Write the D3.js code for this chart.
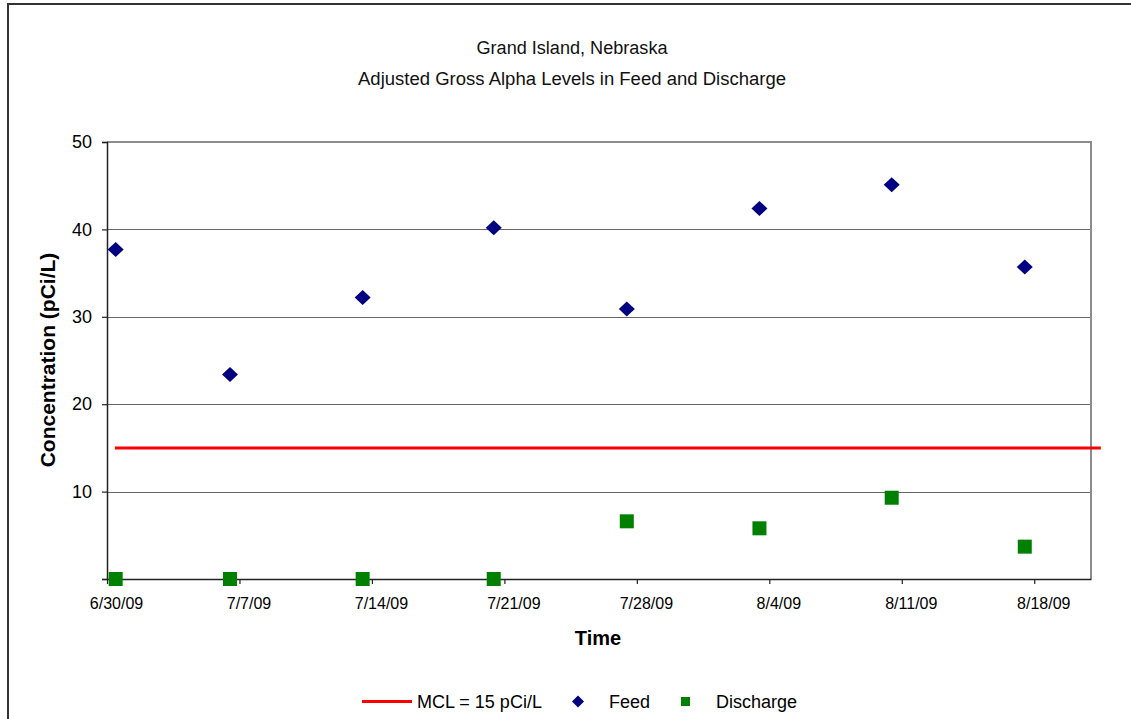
<!DOCTYPE html>
<html>
<head>
<meta charset="utf-8">
<script src="https://cdn.jsdelivr.net/npm/d3@7"></script>
<style>
  html, body { margin: 0; padding: 0; background: #fff; }
  svg { display: block; font-family: "Liberation Sans", Arial, sans-serif; }
</style>
</head>
<body>
<svg id="chart" width="1131" height="719"></svg>
<script>
// ---- Data ----
const titleLines = ["Grand Island, Nebraska", "Adjusted Gross Alpha Levels in Feed and Discharge"];
const xTickLabels = ["6/30/09", "7/7/09", "7/14/09", "7/21/09", "7/28/09", "8/4/09", "8/11/09", "8/18/09"];
const xDomain = ["6/30/09", "8/21/09"];
const yTicks = [0, 10, 20, 30, 40, 50];
const sampleTimes = ["2009-06-30 11:00", "2009-07-06 12:00", "2009-07-13 12:15", "2009-07-20 10:30",
                     "2009-07-27 11:15", "2009-08-03 11:30", "2009-08-10 11:15", "2009-08-17 12:00"];
const feedValues = [37.7, 23.4, 32.2, 40.2, 30.9, 42.4, 45.1, 35.7];
const dischargeValues = [0, 0, 0, 0, 6.6, 5.8, 9.3, 3.7];
const mclTimes = ["2009-06-30 10:00", "2009-08-21 12:30"];
const mclValues = [15, 15];
const legendLabels = ["MCL = 15 pCi/L", "Feed", "Discharge"];

// ---- Setup ----
const svg = d3.select("#chart");
const parseTick = d3.timeParse("%m/%d/%y");
const parseTime = d3.timeParse("%Y-%m-%d %H:%M");

const plot = { left: 107, right: 1091, top: 142, bottom: 579 };
const x = d3.scaleTime().domain(xDomain.map(parseTick)).range([plot.left, plot.right]);
const y = d3.scaleLinear().domain([0, 50]).range([plot.bottom, plot.top]);

// outer border
svg.append("rect").attr("x", 8).attr("y", 4).attr("width", 1140).attr("height", 740)
  .attr("fill", "none").attr("stroke", "#333").attr("stroke-width", 2);

// titles
const titleWidths = [191, 428];
svg.selectAll("text.title").data(titleLines).join("text")
  .attr("class", "title")
  .attr("x", 572).attr("y", (d, i) => 54 + i * 31)
  .attr("text-anchor", "middle")
  .attr("font-size", 18)
  .attr("textLength", (d, i) => titleWidths[i])
  .attr("lengthAdjust", "spacingAndGlyphs")
  .attr("fill", "#111")
  .text(d => d);

// gridlines
svg.append("g").selectAll("line").data(yTicks.filter(v => v > 0 && v < 50)).join("line")
  .attr("x1", plot.left).attr("x2", plot.right)
  .attr("y1", d => Math.round(y(d)) + 0.5).attr("y2", d => Math.round(y(d)) + 0.5)
  .attr("stroke", "#666").attr("stroke-width", 1);

// plot border (top/right)
svg.append("path")
  .attr("d", `M${plot.left},${y(50)}H${plot.right}V${plot.bottom}`)
  .attr("fill", "none").attr("stroke", "#8c8c8c").attr("stroke-width", 2);

// MCL line
svg.append("path")
  .datum(mclTimes.map((t, i) => [parseTime(t), mclValues[i]]))
  .attr("d", d3.line().x(d => x(d[0])).y(d => y(d[1])))
  .attr("fill", "none").attr("stroke", "#ff0000").attr("stroke-width", 3);

// Y axis
const yAxis = svg.append("g").attr("transform", `translate(${plot.left},0)`)
  .call(d3.axisLeft(y).tickValues(yTicks).tickSize(5).tickPadding(10)
    .tickFormat(d => d === 0 ? "" : d));
yAxis.select(".domain").attr("stroke", "#222").attr("stroke-width", 1.5);
yAxis.selectAll(".tick line").attr("stroke", "#222").attr("stroke-width", 1.2);
yAxis.selectAll("text").attr("font-size", 18).attr("fill", "#000")
  .attr("font-family", "Liberation Sans, Arial, sans-serif");

// X axis
const xAxis = svg.append("g").attr("transform", `translate(0,${plot.bottom})`)
  .call(d3.axisBottom(x).tickValues(xTickLabels.map(parseTick)).tickSize(5).tickPadding(14)
    .tickSizeOuter(0)
    .tickFormat((d, i) => xTickLabels[i]));
xAxis.select(".domain").attr("stroke", "#222").attr("stroke-width", 1.5);
xAxis.selectAll(".tick line").attr("stroke", "#222").attr("stroke-width", 1.2);
xAxis.selectAll("text").attr("font-size", 16).attr("fill", "#000").attr("dx", 9)
  .attr("font-family", "Liberation Sans, Arial, sans-serif");

// axis titles
svg.append("text").attr("x", 598).attr("y", 645).attr("text-anchor", "middle")
  .attr("font-size", 20).attr("font-weight", "bold").text("Time");
svg.append("text").attr("transform", "translate(55,360) rotate(-90)").attr("text-anchor", "middle")
  .attr("font-size", 21).attr("font-weight", "bold").text("Concentration (pCi/L)");

// Feed diamonds
const diamond = (cx, cy, hw, hh) => `M${cx},${cy - hh}L${cx + hw},${cy}L${cx},${cy + hh}L${cx - hw},${cy}Z`;
svg.append("g").selectAll("path").data(sampleTimes.map((t, i) => [parseTime(t), feedValues[i]])).join("path")
  .attr("d", d => diamond(x(d[0]), y(d[1]), 8, 7.5))
  .attr("fill", "#000080");

// Discharge squares
svg.append("g").selectAll("rect").data(sampleTimes.map((t, i) => [parseTime(t), dischargeValues[i]])).join("rect")
  .attr("x", d => x(d[0]) - 7).attr("y", d => y(d[1]) - 7)
  .attr("width", 14).attr("height", 14)
  .attr("fill", "#008000");

// Legend
const lg = svg.append("g");
lg.append("line").attr("x1", 362).attr("x2", 412).attr("y1", 701.5).attr("y2", 701.5)
  .attr("stroke", "#ff0000").attr("stroke-width", 3);
lg.append("path").attr("d", diamond(578, 701.5, 6, 6)).attr("fill", "#000080");
lg.append("rect").attr("x", 681).attr("y", 697).attr("width", 9).attr("height", 9).attr("fill", "#008000");
const legendX = [417, 609, 716];
lg.selectAll("text").data(legendLabels).join("text")
  .attr("x", (d, i) => legendX[i]).attr("y", 708)
  .attr("font-size", 18).attr("fill", "#000").text(d => d);
</script>
</body>
</html>
